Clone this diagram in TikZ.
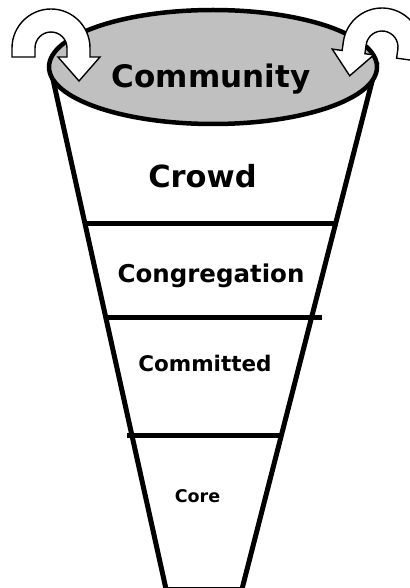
\documentclass[tikz,border=0pt]{standalone}
\usepackage{fontspec}
\setmainfont{DejaVu Sans}
\usetikzlibrary{calc,positioning}
\definecolor{rim}{RGB}{192,192,192}

\tikzset{turnpic/.pic={
  \draw[turn] (-39,-9) -- (-39,0) arc (180:0:39) -- (39,-9) -- (49,-9) -- (28,-33)
    -- (7,-9) -- (16,-9) -- (16,0) arc (0:180:16) -- (-16,-9) -- cycle;}}

\begin{document}
\begin{tikzpicture}[x=1pt,y=1pt,
  side/.style={line width=5pt},
  turn/.style={draw,fill=white,line width=1.4pt},
  label/.style={anchor=base,inner sep=0pt}]
\useasboundingbox (0,0) rectangle (409,-588);

\coordinate (tl) at (50,-66);
\coordinate (tr) at (377,-62);
\coordinate (bl) at (166,-589);
\coordinate (br) at (242,-589);

\coordinate (crowdL) at (85,-223);
\coordinate (crowdR) at (338,-223);
\coordinate (congL) at (106,-317);
\coordinate (congR) at (322,-317);
\coordinate (commL) at (127,-435);
\coordinate (commR) at (282,-435);

\draw[side] (tl) -- (bl);
\draw[side] (tr) -- (br);
\draw[side] (bl) -- (br);
\draw[side] (crowdL) -- (crowdR);
\draw[side] (congL) -- (congR);
\draw[side] (commL) -- (commR);

\draw[line width=4.5pt,fill=rim] (213,-67) ellipse [x radius=164,y radius=57];

\pic at (51,-48) {turnpic};
\pic[rotate=-8,xscale=-1] at (382,-47) {turnpic};

\node[label,font=\fontsize{31}{31}\bfseries] at (211,-88) (community) {Community};
\node[label,font=\fontsize{30.5}{30.5}\bfseries] at (202.5,-187) (crowd) {Crowd};
\node[label,font=\fontsize{24.5}{24.5}\bfseries] at (211,-282) (congregation) {Congregation};
\node[label,font=\fontsize{21.5}{21.5}\bfseries] at (205,-371) (committed) {Committed};
\node[label,font=\fontsize{17.5}{17.5}\bfseries] at (197.5,-502) (core) {Core};
\end{tikzpicture}
\end{document}
